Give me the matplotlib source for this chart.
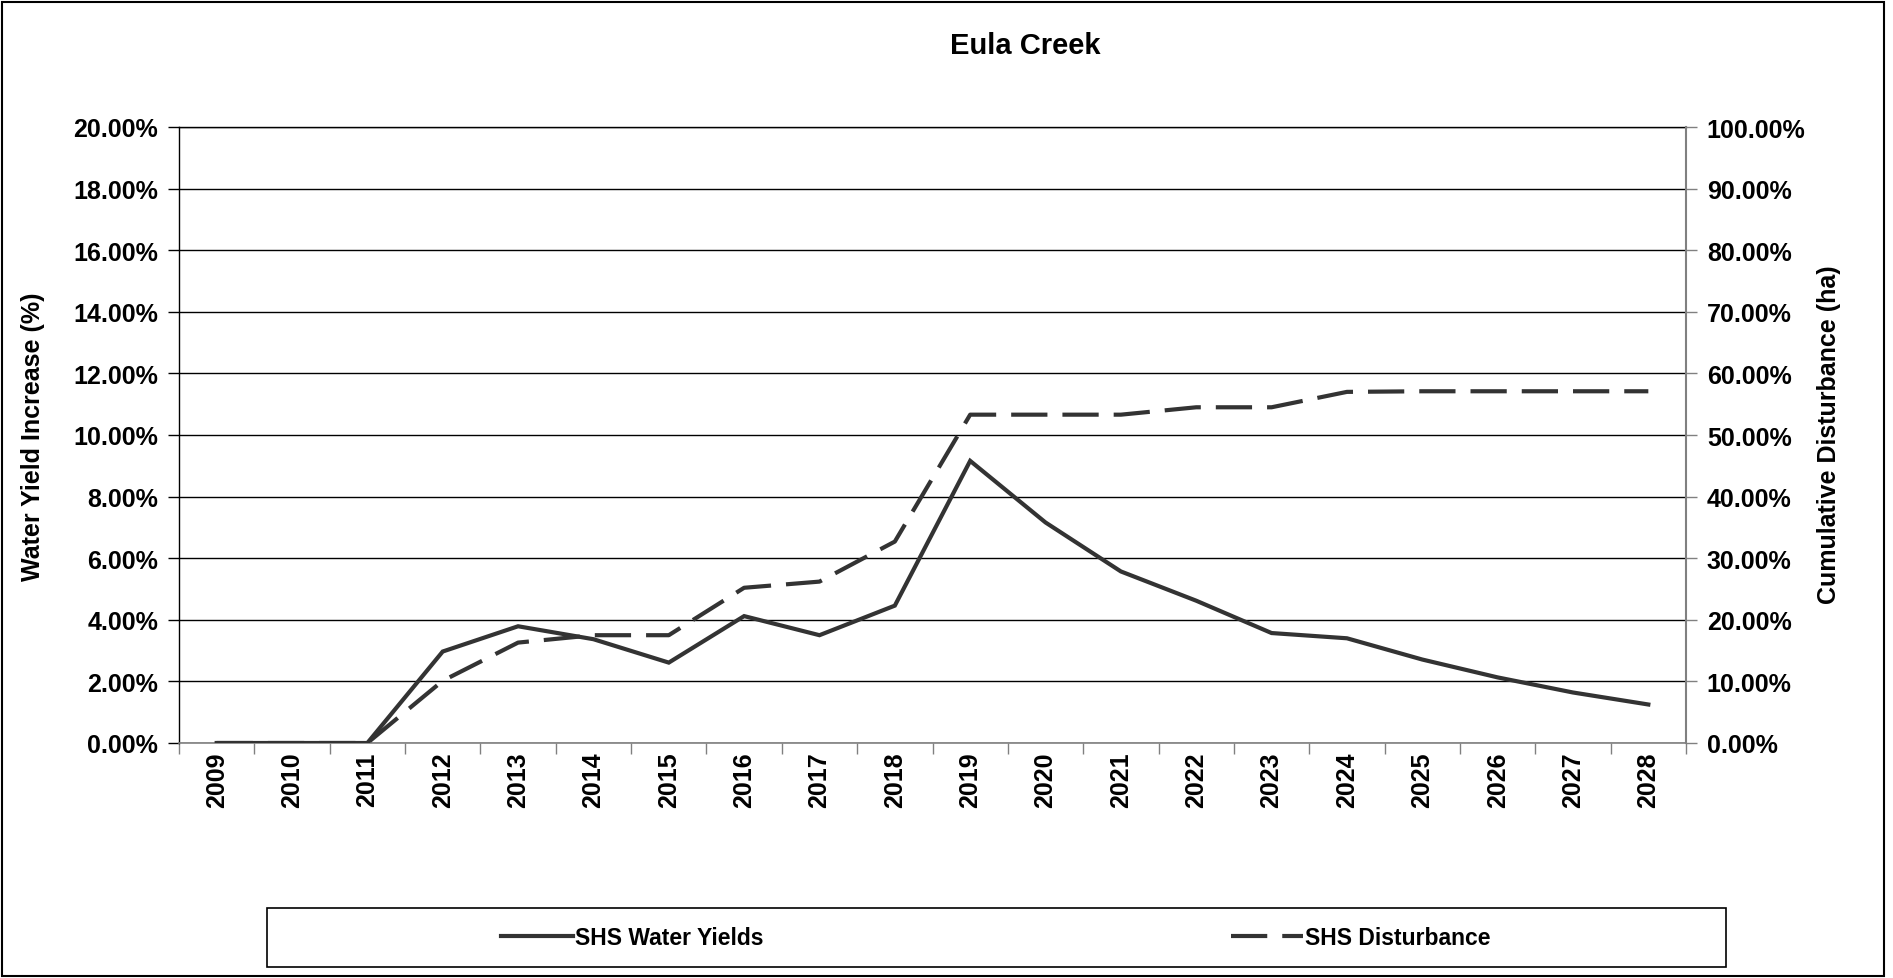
import matplotlib
matplotlib.use("Agg")
import matplotlib.pyplot as plt
from matplotlib.patches import Rectangle
from matplotlib.ticker import FuncFormatter, MultipleLocator
import numpy as np

# ---- data ----
years = [str(y) for y in range(2009, 2029)]
water_yields = [0.0, 0.0, 0.0, 2.97, 3.79, 3.37, 2.61, 4.12, 3.50, 4.46,
                9.16, 7.16, 5.57, 4.62, 3.57, 3.40, 2.71, 2.13, 1.64, 1.25]   # % (left axis)
disturbance = [0.0, 0.0, 0.0, 10.1, 16.3, 17.5, 17.5, 25.2, 26.2, 32.7,
               53.3, 53.3, 53.3, 54.5, 54.5, 57.0, 57.1, 57.1, 57.1, 57.1]    # % (right axis)
title = "Eula Creek"
left_label = "Water Yield Increase (%)"
right_label = "Cumulative Disturbance (ha)"
series_labels = ["SHS Water Yields", "SHS Disturbance"]

plt.rcParams['font.family'] = ['Liberation Sans', 'DejaVu Sans']
plt.rcParams['font.weight'] = 'bold'

W, H = 1893, 979
fig = plt.figure(figsize=(W / 100, H / 100), dpi=100)
fig.patch.set_facecolor('white')

ax_l, ax_r, ax_t, ax_b = 179, 1686, 128, 744
ax = fig.add_axes([ax_l / W, 1 - ax_b / H, (ax_r - ax_l) / W, (ax_b - ax_t) / H])

x = np.arange(len(years))
line_col = '#333333'
FS = 18

l1, = ax.plot(x, np.array(water_yields) / 100, color=line_col, lw=3.0,
              solid_joinstyle='miter', label=series_labels[0], zorder=4)

ax.set_xlim(-0.5, len(years) - 0.5)
ax.set_ylim(0, 0.20)
ax.yaxis.set_major_locator(MultipleLocator(0.02))
ax.yaxis.set_major_formatter(FuncFormatter(lambda v, p: f"{v*100:.2f}%"))
ax.grid(axis='y', color='black', lw=1.0, zorder=0)
ax.set_axisbelow(True)

ax.set_xticks(x)
ax.set_xticklabels(years, rotation=90, fontsize=FS, fontweight='bold')
ax.set_xticks(np.arange(-0.5, len(years)), minor=True)
ax.tick_params(axis='x', which='major', length=0, pad=6)
ax.tick_params(axis='x', which='minor', length=8, width=1, color='#808080', direction='out')
ax.tick_params(axis='y', which='major', length=8, width=1, color='black', direction='out',
               labelsize=FS, pad=7)
for lab in ax.get_yticklabels():
    lab.set_fontweight('bold')

ax.spines['left'].set_color('black')
ax.spines['left'].set_linewidth(1.0)
ax.spines['bottom'].set_color('#808080')
ax.spines['bottom'].set_linewidth(1.2)
ax.spines['top'].set_color('black')
ax.spines['top'].set_linewidth(1.0)
ax.spines['right'].set_visible(False)

ax2 = ax.twinx()
l2, = ax2.plot(x, np.array(disturbance) / 100, color=line_col, lw=3.0,
               dashes=(8.7, 3.6), label=series_labels[1], zorder=3)
ax2.set_ylim(0, 1.0)
ax2.yaxis.set_major_locator(MultipleLocator(0.10))
ax2.yaxis.set_major_formatter(FuncFormatter(lambda v, p: f"{v*100:.2f}%"))
ax2.tick_params(axis='y', which='major', length=8, width=1, color='#808080', direction='out',
                labelsize=FS, pad=7)
for lab in ax2.get_yticklabels():
    lab.set_fontweight('bold')
for s in ['left', 'top', 'bottom']:
    ax2.spines[s].set_visible(False)
ax2.spines['right'].set_color('#808080')
ax2.spines['right'].set_linewidth(1.5)

# labels
fig.text(33 / W, 1 - 437 / H, left_label, rotation=90, ha='center', va='center',
         fontsize=FS, fontweight='bold')
fig.text(1829 / W, 1 - 435 / H, right_label, rotation=90, ha='center', va='center',
         fontsize=FS, fontweight='bold')
fig.text(1025 / W, 1 - 46 / H, title, ha='center', va='center',
         fontsize=21, fontweight='bold')

# legend box
fig.add_artist(Rectangle((267 / W, 1 - 968 / H), (1726 - 267) / W, (968 - 909) / H,
                         transform=fig.transFigure, fill=False, edgecolor='black', lw=1.2))
LFS = 16.5
hl = 72 / (LFS * 100 / 72)
for handle, lab, xs in [(l1, series_labels[0], 501), (l2, series_labels[1], 1231)]:
    fig.legend([handle], [lab], loc='center left', bbox_to_anchor=(xs / W, 1 - 939 / H),
               frameon=False, borderpad=0, borderaxespad=0, handlelength=hl,
               handletextpad=0.1, prop={'size': LFS, 'weight': 'bold'})

# figure border
fig.add_artist(Rectangle((2 / W, 1 - 977 / H), (1884 - 2) / W, (977 - 3) / H,
                         transform=fig.transFigure, fill=False, edgecolor='black', lw=1.5))

fig.savefig('out.png', dpi=100)
